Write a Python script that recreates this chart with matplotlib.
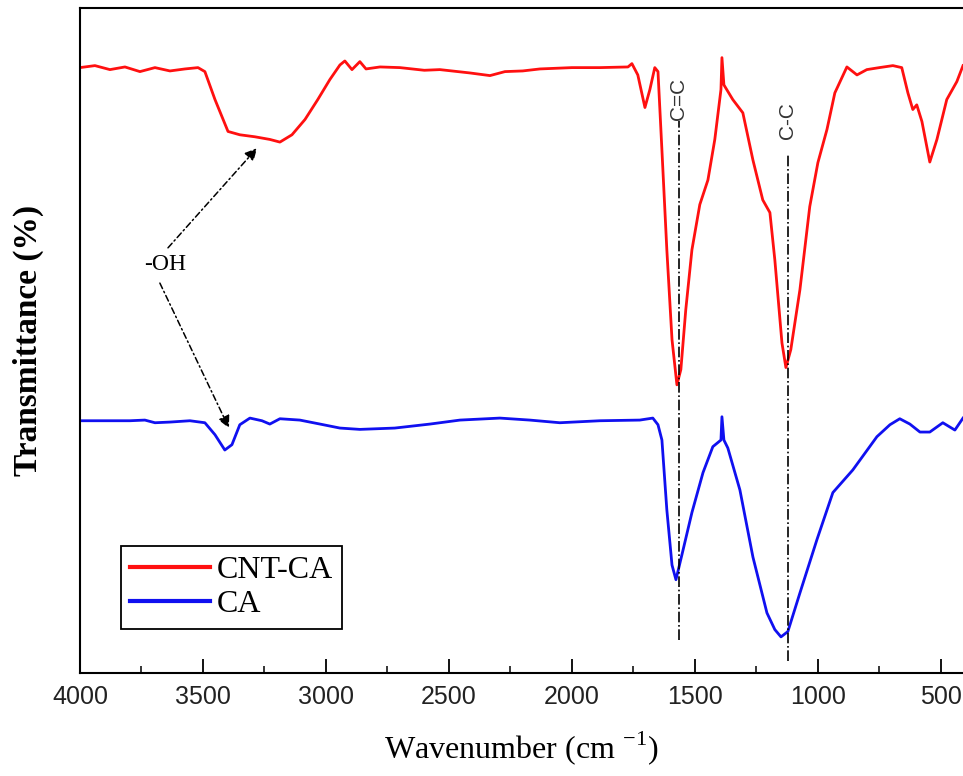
import matplotlib
matplotlib.use("Agg")
import matplotlib.pyplot as plt
import numpy as np

plt.rcParams['font.family'] = ['Liberation Serif', 'DejaVu Serif']
plt.rcParams['mathtext.fontset'] = 'custom'
plt.rcParams['mathtext.rm'] = 'Liberation Serif'

# CNT-CA spectrum (wavenumber, transmittance), offset for display
wn_cntca = [4000, 3939, 3878, 3817, 3756, 3695, 3634, 3573, 3520, 3492, 3451, 3398, 3350, 3289,
            3228, 3187, 3138, 3085, 3033, 2984, 2943, 2923, 2894, 2862, 2837, 2780, 2699, 2600,
            2537, 2415, 2333, 2272, 2200, 2130, 2000, 1886, 1772, 1756, 1732, 1703, 1683, 1663,
            1650, 1634, 1614, 1593, 1573, 1557, 1537, 1512, 1480, 1447, 1419, 1394, 1390, 1382,
            1346, 1305, 1264, 1224, 1195, 1175, 1146, 1130, 1110, 1073, 1033, 1000, 963, 931,
            882, 841, 801, 750, 695, 659, 634, 614, 598, 577, 545, 516, 476, 435, 410]
t_cntca = [91.0, 91.3, 90.7, 91.1, 90.4, 91.0, 90.5, 90.8, 91.0, 90.4, 86.2, 81.4, 80.9, 80.6,
           80.2, 79.8, 80.9, 83.2, 86.2, 89.2, 91.4, 92.0, 90.7, 91.9, 90.8, 91.1, 91.0, 90.6,
           90.7, 90.2, 89.8, 90.4, 90.5, 90.8, 91.0, 91.0, 91.1, 91.6, 89.9, 85.0, 87.7, 91.0,
           90.4, 78.6, 63.6, 50.1, 43.3, 45.6, 54.6, 63.6, 70.4, 74.1, 80.2, 87.7, 92.5, 88.4,
           86.2, 84.2, 77.1, 71.1, 69.2, 62.1, 49.6, 45.9, 48.6, 57.6, 70.1, 76.7, 81.7, 87.2,
           91.1, 89.9, 90.7, 91.0, 91.3, 91.0, 87.2, 84.7, 85.4, 82.9, 76.8, 80.2, 86.2, 88.9,
           91.3]

# CA spectrum
wn_ca = [4000, 3797, 3736, 3695, 3634, 3553, 3492, 3451, 3411, 3382, 3350, 3309, 3260, 3228,
         3187, 3106, 3024, 2943, 2862, 2720, 2577, 2455, 2293, 2171, 2049, 1886, 1724, 1671,
         1650, 1634, 1614, 1593, 1577, 1553, 1512, 1467, 1427, 1394, 1390, 1382, 1366, 1317,
         1264, 1207, 1175, 1150, 1122, 1073, 1004, 939, 858, 760, 707, 667, 626, 585, 545,
         492, 443, 410]
t_ca = [37.9, 37.9, 38.0, 37.6, 37.7, 37.9, 37.6, 35.8, 33.5, 34.3, 37.3, 38.3, 37.9, 37.4,
        38.2, 38.0, 37.4, 36.8, 36.6, 36.8, 37.4, 38.0, 38.3, 38.0, 37.6, 37.9, 38.0, 38.3,
        37.3, 35.0, 24.5, 16.2, 14.0, 17.7, 24.1, 30.1, 34.0, 35.0, 38.5, 35.0, 33.8, 27.5,
        17.4, 9.0, 6.5, 5.4, 6.2, 12.0, 20.0, 27.1, 30.5, 35.5, 37.3, 38.2, 37.4, 36.2, 36.2,
        37.6, 36.5, 38.3]

# band assignments
band_labels = ['C=C', 'C-C']
band_pos = [1565, 1122]

fig = plt.figure(figsize=(9.63, 7.76), dpi=100)
ax = fig.add_axes([0.083, 0.133, 0.917, 0.857])

ax.plot(wn_cntca, t_cntca, color='#ff1010', lw=2.0, label='CNT-CA')
ax.plot(wn_ca, t_ca, color='#1010f0', lw=2.0, label='CA')

ax.set_xlim(4000, 410)
ax.set_ylim(0, 100)

# dash-dot markers for the bands
ax.plot([band_pos[0]] * 2, [5.0, 82.9], color='k', lw=1.2, ls='-.')
ax.plot([band_pos[1]] * 2, [1.7, 78.2], color='k', lw=1.2, ls='-.')
ax.text(band_pos[0], 86.3, band_labels[0], rotation=90, ha='center', va='center',
        fontsize=15, color='#333333', family=['Liberation Sans'])
ax.text(band_pos[1], 83.0, band_labels[1], rotation=90, ha='center', va='center',
        fontsize=15, color='#333333', family=['Liberation Sans'])

# -OH annotation
ax.text(3654, 61.4, '-OH', ha='center', va='center', fontsize=17)
arr = dict(arrowstyle='-|>', linestyle=(0, (4, 2, 1, 2)), color='k', lw=1.1,
           mutation_scale=18, shrinkA=0, shrinkB=0)
ax.annotate('', xy=(3280, 78.9), xytext=(3642, 63.9), arrowprops=arr)
ax.annotate('', xy=(3394, 36.8), xytext=(3675, 58.6), arrowprops=arr)

ax.set_xticks(np.arange(4000, 499, -500))
ax.set_xticks(np.arange(3750, 409, -500), minor=True)
ax.set_yticks([])
ax.tick_params(axis='x', which='major', direction='in', length=10, width=1.3,
               labelsize=18, pad=9, top=False)
ax.tick_params(axis='x', which='minor', direction='in', length=5, width=1.1, top=False)
for lbl in ax.get_xticklabels():
    lbl.set_family(['Liberation Sans'])
    lbl.set_color('#222222')
for s in ['left', 'bottom', 'top']:
    ax.spines[s].set_linewidth(1.5)
ax.spines['right'].set_visible(False)

ax.set_xlabel('Wavenumber (cm $^{-1}$)', fontsize=23, labelpad=14)
ax.set_ylabel('Transmittance (%)', fontsize=24, fontweight='bold', labelpad=26)

leg = ax.legend(loc='lower left', bbox_to_anchor=(0.046, 0.066), fontsize=23,
                handlelength=2.5, handletextpad=0.2, borderpad=0.3, labelspacing=0.15,
                fancybox=False, edgecolor='k', framealpha=1, borderaxespad=0)
leg.get_frame().set_linewidth(1.3)
for line in leg.get_lines():
    line.set_linewidth(3.0)

fig.savefig('out.png', dpi=100)
